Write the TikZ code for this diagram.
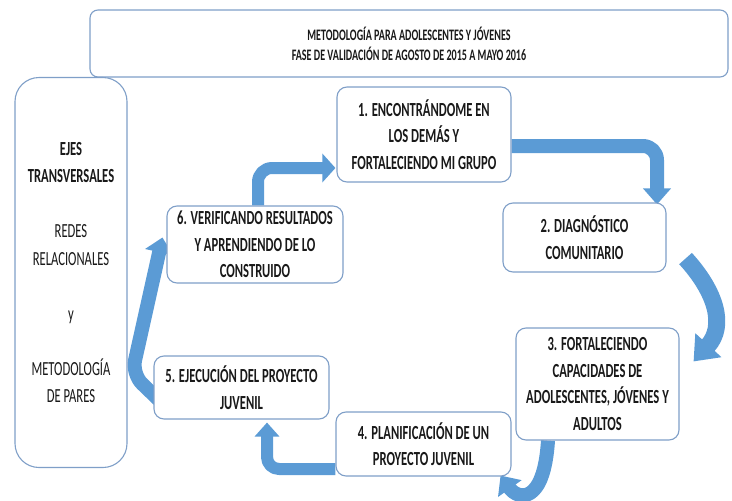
\documentclass[tikz,border=0pt]{standalone}
\usepackage{fontspec}
\setmainfont{Carlito}[FakeStretch=0.63]
\usetikzlibrary{arrows.meta,backgrounds,calc}
\definecolor{arrowblue}{HTML}{5B9BD5}
\definecolor{boxline}{HTML}{7F9FC8}
\begin{document}
\begin{tikzpicture}[x=1pt,y=-1pt,
  box/.style={draw=boxline,line width=1.1pt,fill=white,rounded corners=10pt,
    align=center,inner sep=0pt,text=black!90,
    font=\fontsize{20}{26.5}\selectfont\bfseries},
  shaft/.style={draw=arrowblue,line cap=butt,line join=round,line width=#1}
]
\useasboundingbox (0,0) rectangle (732,501);

\node[box,rounded corners=8pt,minimum width=638pt,minimum height=67pt,
  font=\fontsize{16}{20}\selectfont\bfseries] (title) at (409,43.5)
  {METODOLOGÍA PARA ADOLESCENTES Y JÓVENES\\FASE DE VALIDACIÓN DE AGOSTO DE 2015 A MAYO 2016};

\node[box,rounded corners=24pt,minimum width=112pt,minimum height=390pt,
  font=\fontsize{20}{27.5}\selectfont] (ejes) at (71,272.5)
  {\textbf{EJES}\\\textbf{TRANSVERSALES}\\[27.5pt]REDES\\RELACIONALES\\[27.5pt]y\\[27.5pt]METODOLOGÍA\\DE PARES};

\node[box,minimum width=174pt,minimum height=95pt] (b1) at (424,134.5)
  {1. ENCONTRÁNDOME EN\\LOS DEMÁS Y\\FORTALECIENDO MI GRUPO};
\node[box,minimum width=163pt,minimum height=69pt] (b2) at (584.5,237.5)
  {2. DIAGNÓSTICO\\COMUNITARIO};
\node[box,minimum width=163pt,minimum height=112pt] (b3) at (597.5,384)
  {3. FORTALECIENDO\\CAPACIDADES DE\\ADOLESCENTES, JÓVENES Y\\ADULTOS};
\node[box,minimum width=175pt,minimum height=64pt] (b4) at (423.5,444)
  {4. PLANIFICACIÓN DE UN\\PROYECTO JUVENIL};
\node[box,minimum width=175pt,minimum height=63pt] (b5) at (241.5,387.5)
  {5. EJECUCIÓN DEL PROYECTO\\JUVENIL};
\node[box,minimum width=176pt,minimum height=77pt] (b6) at (255,244.5)
  {6. VERIFICANDO RESULTADOS\\Y APRENDIENDO DE LO\\CONSTRUIDO};

\coordinate (bendF) at (132,374);

\begin{scope}[on background layer]
% 6 -> 1
\draw[shaft=12pt,rounded corners=14pt,-{Triangle[width=28pt,length=13pt]}]
  ([xshift=3pt]b6.north) |- ([yshift=-33.5pt,xshift=-1pt]b1.west);
% 1 -> 2
\draw[shaft=14pt,rounded corners=14pt,-{Triangle[width=27pt,length=16pt]}]
  ([yshift=-11.5pt]b1.east) -| ([xshift=72.5pt,yshift=-2pt]b2.north);
% 2 -> 3
\draw[shaft=17pt,-{Triangle[width=34pt,length=22pt]}]
  ([xshift=19pt,yshift=14pt]b2.south east) .. controls (716,292) and (726,326) ..
  ([xshift=14pt,yshift=-34pt]b3.north east);
% 3 -> 4
\draw[shaft=14pt,-{Triangle[width=28pt,length=16pt]}]
  ([xshift=-49.5pt]b3.south) .. controls (544,505) and (518,500) ..
  ([xshift=-11pt,yshift=1pt]b4.south east);
% 4 -> 5
\draw[shaft=12pt,rounded corners=12pt,-{Triangle[width=24pt,length=14pt]}]
  ([yshift=-25pt]b4.west) -| ([xshift=25.5pt,yshift=-3pt]b5.south);
% 5 -> 6
\draw[shaft=14pt,rounded corners=14pt,-{Triangle[width=28pt,length=15pt]}]
  ([xshift=6pt,yshift=-13pt]b5.west) -- (bendF) -- ([xshift=-4pt,yshift=7pt]b6.west);
\end{scope}
\end{tikzpicture}
\end{document}
